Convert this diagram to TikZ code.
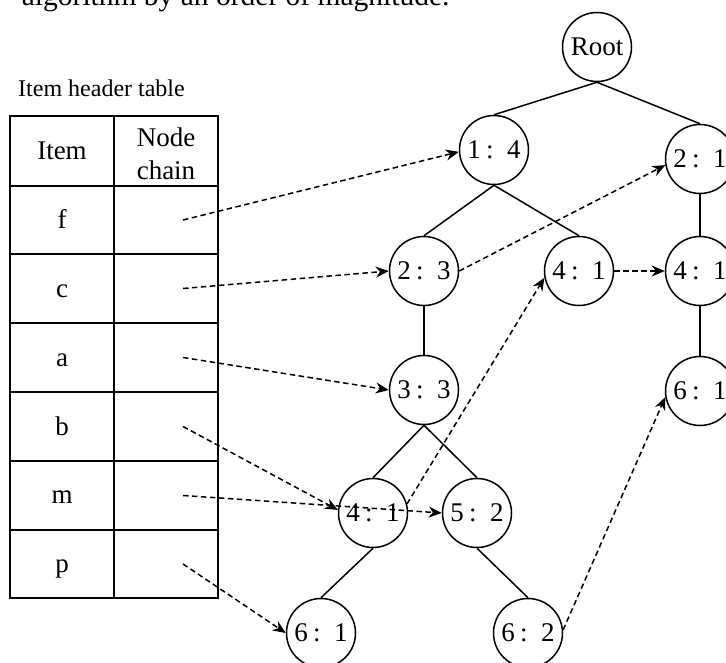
\documentclass[tikz,border=0pt]{standalone}
\usepackage{fontspec}
\setmainfont{Liberation Serif}
\usetikzlibrary{arrows.meta}
\newcommand{\kvtext}[2]{#1\hspace{0.2em}:\hspace{0.5em}#2}
\begin{document}
\begin{tikzpicture}[x=1pt,y=-1pt,
  tn/.style={circle,draw,line width=1.5pt,minimum size=69pt,inner sep=0pt,font=\fontsize{27}{30}\selectfont},
  tl/.style={line width=1.5pt},
  da/.style={dash pattern=on 5.5pt off 3.5pt,line width=1.5pt,-{Stealth[length=13pt,width=11pt]}},
  cell/.style={font=\fontsize{27}{33}\selectfont,anchor=base,inner sep=0pt},
  grid/.style={line width=1.8pt}
]
\useasboundingbox (0,0) rectangle (726,663);
\clip (0,0) rectangle (726,663);

% cropped top text
\node[anchor=base west,inner sep=0pt,font=\fontsize{29.5}{32}\selectfont] (title) at (21.7,6) {algorithm by an order of magnitude.};
\node[anchor=base west,inner sep=0pt,font=\fontsize{24}{28}\selectfont] (lbl) at (18,97) {Item header table};

% table
\draw[grid] (10,116) rectangle (218,598);
\draw[grid] (114,116) -- (114,598);
\foreach \yy in {186,254,323,392,461,530} {\draw[grid] (10,\yy) -- (218,\yy);}

\node[cell] (hitem) at (62,160) {Item};
\node[font=\fontsize{27}{33}\selectfont,align=center,inner sep=0pt] (hchain) at (166,153.3) {Node\\chain};
\node[cell] (rf) at (62,229) {f};
\node[cell] (rc) at (62,297.5) {c};
\node[cell] (ra) at (62,366.5) {a};
\node[cell] (rb) at (62,435.5) {b};
\node[cell] (rm) at (62,503) {m};
\node[cell] (rp) at (62,572) {p};

\coordinate (sf) at (183,220);
\coordinate (sc) at (183,288.5);
\coordinate (sa) at (183,357.5);
\coordinate (sb) at (183,426.5);
\coordinate (sm) at (183,495.5);
\coordinate (sp) at (183,564);

% tree nodes
\node[tn] (root) at (597,47) {Root};
\node[tn] (n14) at (494,150) {\kvtext{1}{4}};
\node[tn] (n21) at (700,159) {\kvtext{2}{1}};
\node[tn] (n23) at (424,271) {\kvtext{2}{3}};
\node[tn] (n41m) at (579,271) {\kvtext{4}{1}};
\node[tn] (n41r) at (700,271) {\kvtext{4}{1}};
\node[tn] (n61r) at (700,391) {\kvtext{6}{1}};
\node[tn] (n33) at (424,390) {\kvtext{3}{3}};
\node[tn] (n41b) at (373,513) {\kvtext{4}{1}};
\node[tn] (n52) at (477,513) {\kvtext{5}{2}};
\node[tn] (n61b) at (321,633) {\kvtext{6}{1}};
\node[tn] (n62) at (528,633) {\kvtext{6}{2}};

% tree edges
\draw[tl] (root.south) -- (n14.north);
\draw[tl] (root.south) -- (n21.north);
\draw[tl] (n14.south) -- (n23.north);
\draw[tl] (n14.south) -- (n41m.north);
\draw[tl] (n21.south) -- (n41r.north);
\draw[tl] (n41r.south) -- (n61r.north);
\draw[tl] (n23.south) -- (n33.north);
\draw[tl] (n33.south) -- (n41b.north);
\draw[tl] (n33.south) -- (n52.north);
\draw[tl] (n41b.south) -- (n61b.north);
\draw[tl] (n52.south) -- (n62.north);

% node chains
\draw[da] (sf) -- (n14.183);
\draw[da] (sc) -- (n23.west);
\draw[da] (sa) -- (n33.west);
\draw[da] (sb) -- (n41b.175);
\draw[da] (sm) -- (n52.west);
\draw[da] (sp) -- (n61b.west);
\draw[da] (n23.east) -- (n21.190);
\draw[da] (n41m.east) -- (n41r.west);
\draw[da] (n41b.15) -- (n41m.191);
\draw[da] (n62.5) -- (n61r.190);
\end{tikzpicture}
\end{document}
